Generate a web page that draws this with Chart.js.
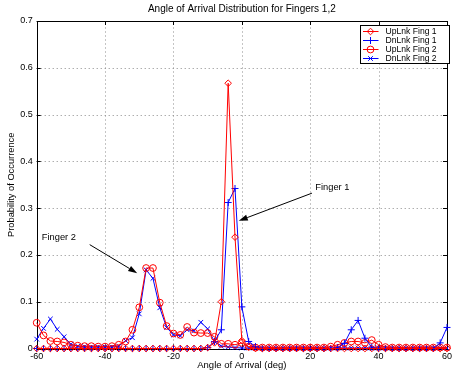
<!DOCTYPE html>
<html>
<head>
<meta charset="utf-8">
<script src="https://cdn.jsdelivr.net/npm/chart.js@4/dist/chart.umd.min.js"></script>
<style>
  html, body { margin: 0; padding: 0; background: #fff; }
  #wrap { width: 455px; height: 375px; }
</style>
</head>
<body>
<div id="wrap"><canvas id="aoaChart" width="455" height="375"></canvas></div>
<script>
// angle of arrival bins (deg)
const angles = [
  -60, -58, -56, -54, -52, -50, -48, -46, -44, -42,
  -40, -38, -36, -34, -32, -30, -28, -26, -24, -22,
  -20, -18, -16, -14, -12, -10, -8, -6, -4, -2,
  0, 2, 4, 6, 8, 10, 12, 14, 16, 18,
  20, 22, 24, 26, 28, 30, 32, 34, 36, 38,
  40, 42, 44, 46, 48, 50, 52, 54, 56, 58, 60
];

const upFing1 = [
  0, 0, 0, 0, 0, 0, 0, 0, 0, 0,
  0, 0, 0, 0, 0, 0, 0, 0, 0, 0,
  0, 0, 0, 0, 0, 0.002, 0.012, 0.1, 0.567, 0.238,
  0.017, 0.003, 0, 0, 0, 0, 0, 0, 0, 0,
  0, 0, 0, 0, 0, 0, 0, 0, 0, 0,
  0, 0, 0, 0, 0, 0, 0, 0, 0, 0, 0
];

const dnFing1 = [
  0, 0, 0, 0, 0, 0, 0, 0, 0, 0,
  0, 0, 0, 0, 0, 0, 0, 0, 0, 0,
  0, 0, 0, 0, 0, 0.002, 0.015, 0.04, 0.312, 0.342,
  0.089, 0.015, 0.004, 0, 0, 0, 0, 0, 0, 0,
  0, 0, 0, 0, 0.002, 0.011, 0.04, 0.06, 0.022, 0.003,
  0, 0, 0, 0, 0, 0, 0, 0, 0, 0.012, 0.045
];

const upFing2 = [
  0.055, 0.028, 0.016, 0.015, 0.013, 0.008, 0.006, 0.005, 0.005, 0.004,
  0.004, 0.005, 0.008, 0.015, 0.04, 0.088, 0.172, 0.172, 0.098, 0.048,
  0.032, 0.029, 0.046, 0.034, 0.033, 0.033, 0.025, 0.01, 0.01, 0.008,
  0.012, 0.004, 0.002, 0.002, 0.002, 0.002, 0.002, 0.002, 0.002, 0.002,
  0.002, 0.002, 0.002, 0.004, 0.008, 0.012, 0.015, 0.015, 0.012, 0.018,
  0.008, 0.003, 0.002, 0.002, 0.002, 0.002, 0.002, 0.002, 0.002, 0.002, 0.002
];

const dnFing2 = [
  0.02, 0.043, 0.063, 0.041, 0.025, 0.009, 0.005, 0.004, 0.003, 0.003,
  0.003, 0.003, 0.005, 0.017, 0.023, 0.074, 0.168, 0.15, 0.087, 0.045,
  0.029, 0.027, 0.04, 0.038, 0.056, 0.042, 0.015, 0.005, 0.003, 0.002,
  0.001, 0.001, 0.001, 0.001, 0.001, 0.001, 0.001, 0.001, 0.001, 0.001,
  0.001, 0.001, 0.001, 0.001, 0.001, 0.001, 0.001, 0.001, 0.001, 0.001,
  0.001, 0.001, 0.001, 0.001, 0.001, 0.001, 0.001, 0.001, 0.001, 0.001, 0.001
];

const seriesNames = ["UpLnk Fing 1", "DnLnk Fing 1", "UpLnk Fing 2", "DnLnk Fing 2"];
const xTicks = [-60, -40, -20, 0, 20, 40, 60];
const yTicks = [0, 0.1, 0.2, 0.3, 0.4, 0.5, 0.6, 0.7];

// text annotations [label, textX, textY, arrowFromX, arrowFromY, arrowToX, arrowToY] in data units
const notes = [
  ["Finger 1", 21.5, 0.344, 20.5, 0.332, -0.9, 0.273],
  ["Finger 2", -58.5, 0.238, -44.5, 0.222, -30.6, 0.161]
];

const FONT = "'Liberation Sans', Arial, Helvetica, sans-serif";
const RED = "#ff0000";
const BLUE = "#0000ff";

const pts = vals => vals.map((v, i) => ({ x: angles[i], y: v }));

function mkSet(label, vals, color, style, radius) {
  return {
    label: label,
    data: pts(vals),
    borderColor: color,
    backgroundColor: color,
    borderWidth: 1,
    pointStyle: style,
    pointRadius: radius,
    pointBorderWidth: 1,
    pointBorderColor: color,
    pointBackgroundColor: "rgba(0,0,0,0)",
    pointHoverRadius: radius,
    tension: 0,
    fill: false,
    clip: false
  };
}

const datasets = [
  mkSet(seriesNames[0], upFing1, RED, "rectRot", 3.3),
  mkSet(seriesNames[1], dnFing1, BLUE, "cross", 3.5),
  mkSet(seriesNames[2], upFing2, RED, "circle", 3.4),
  mkSet(seriesNames[3], dnFing2, BLUE, "crossRot", 3.3)
];

// dotted grid, box, inward ticks, annotations, legend, title
const matlabLook = {
  id: "matlabLook",
  beforeDatasetsDraw(chart) {
    const { ctx, chartArea: a, scales } = chart;
    ctx.save();
    // dotted grid
    ctx.strokeStyle = "#8a8a8a";
    ctx.lineWidth = 1;
    ctx.setLineDash([1, 3]);
    ctx.beginPath();
    xTicks.forEach(t => {
      const px = Math.round(scales.x.getPixelForValue(t)) + 0.5;
      ctx.moveTo(px, a.bottom); ctx.lineTo(px, a.top);
    });
    yTicks.forEach(t => {
      const py = Math.round(scales.y.getPixelForValue(t)) + 0.5;
      ctx.moveTo(a.left, py); ctx.lineTo(a.right, py);
    });
    ctx.stroke();
    ctx.setLineDash([]);
    // ticks pointing inward
    ctx.strokeStyle = "#000";
    ctx.beginPath();
    xTicks.forEach(t => {
      const px = Math.round(scales.x.getPixelForValue(t)) + 0.5;
      ctx.moveTo(px, a.bottom); ctx.lineTo(px, a.bottom - 4);
      ctx.moveTo(px, a.top); ctx.lineTo(px, a.top + 4);
    });
    yTicks.forEach(t => {
      const py = Math.round(scales.y.getPixelForValue(t)) + 0.5;
      ctx.moveTo(a.left, py); ctx.lineTo(a.left + 4, py);
      ctx.moveTo(a.right, py); ctx.lineTo(a.right - 4, py);
    });
    ctx.stroke();
    ctx.strokeRect(Math.round(a.left) + 0.5, Math.round(a.top) + 0.5,
      Math.round(a.right - a.left), Math.round(a.bottom - a.top));
    ctx.restore();
  },
  afterDatasetsDraw(chart) {
    const { ctx, scales } = chart;
    ctx.save();
    ctx.fillStyle = "#000";
    ctx.strokeStyle = "#000";
    ctx.lineWidth = 1;
    ctx.font = "9.3px " + FONT;
    ctx.textBaseline = "middle";
    ctx.textAlign = "left";
    notes.forEach(n => {
      const tx = scales.x.getPixelForValue(n[1]);
      const ty = scales.y.getPixelForValue(n[2]);
      ctx.fillText(n[0], tx, ty);
      const x0 = scales.x.getPixelForValue(n[3]), y0 = scales.y.getPixelForValue(n[4]);
      const x1 = scales.x.getPixelForValue(n[5]), y1 = scales.y.getPixelForValue(n[6]);
      const ang = Math.atan2(y1 - y0, x1 - x0);
      const hl = 9, hw = 3;
      const bx = x1 - hl * Math.cos(ang), by = y1 - hl * Math.sin(ang);
      ctx.beginPath();
      ctx.moveTo(x0, y0); ctx.lineTo(bx, by);
      ctx.stroke();
      ctx.beginPath();
      ctx.moveTo(x1, y1);
      ctx.lineTo(bx + hw * Math.sin(ang), by - hw * Math.cos(ang));
      ctx.lineTo(bx - hw * Math.sin(ang), by + hw * Math.cos(ang));
      ctx.closePath();
      ctx.fill();
    });
    ctx.restore();
  },
  afterDraw(chart) {
    const { ctx, chartArea: a } = chart;
    ctx.save();
    // title
    ctx.fillStyle = "#000";
    ctx.font = "10px " + FONT;
    ctx.textAlign = "center";
    ctx.textBaseline = "middle";
    ctx.fillText("Angle of Arrival Distribution for Fingers 1,2", (a.left + a.right) / 2, 9);
    // legend
    const lx = 360.5, ly = 25.5, lw = 89, lh = 38;
    ctx.fillStyle = "#fff";
    ctx.fillRect(lx, ly, lw, lh);
    ctx.strokeStyle = "#000";
    ctx.lineWidth = 1;
    ctx.strokeRect(lx, ly, lw, lh);
    ctx.textAlign = "left";
    datasets.forEach((d, i) => {
      const ry = ly + 6 + i * 9;
      ctx.strokeStyle = d.borderColor;
      ctx.lineWidth = 1;
      ctx.beginPath();
      ctx.moveTo(lx + 2.5, ry); ctx.lineTo(lx + 18, ry);
      ctx.stroke();
      ctx.fillStyle = "rgba(0,0,0,0)";
      Chart.helpers.drawPoint(ctx, { pointStyle: d.pointStyle, radius: d.pointRadius, borderWidth: 1, rotation: 0 }, lx + 10, ry);
      ctx.fillStyle = "#000";
      ctx.font = "8.6px " + FONT;
      ctx.fillText(d.label, lx + 25, ry + 0.5);
    });
    ctx.restore();
  }
};

const ctx = document.getElementById("aoaChart").getContext("2d");
const chart = new Chart(ctx, {
  type: "line",
  data: { datasets: datasets },
  options: {
    responsive: false,
    animation: false,
    events: [],
    layout: { padding: { top: 21, right: 4, left: 0, bottom: 0 } },
    plugins: {
      legend: { display: false },
      title: { display: false },
      tooltip: { enabled: false }
    },
    scales: {
      x: {
        type: "linear",
        min: -60, max: 60,
        afterBuildTicks: s => { s.ticks = xTicks.map(v => ({ value: v })); },
        afterFit: s => { s.height = 26.5; },
        ticks: { color: "#000", font: { family: FONT, size: 9 }, padding: 3, maxRotation: 0 },
        grid: { display: false, drawTicks: false },
        border: { display: false },
        title: { display: true, text: "Angle of Arrival (deg)", color: "#000", font: { family: FONT, size: 9.5 }, padding: { top: 0, bottom: 4 } }
      },
      y: {
        type: "linear",
        min: 0, max: 0.7,
        afterBuildTicks: s => { s.ticks = yTicks.map(v => ({ value: v })); },
        afterFit: s => { s.width = 36.7; },
        ticks: { color: "#000", font: { family: FONT, size: 9 }, padding: 4 },
        grid: { display: false, drawTicks: false },
        border: { display: false },
        title: { display: true, text: "Probability of Occurrence", color: "#000", font: { family: FONT, size: 9.3 }, padding: { top: 6, bottom: 0 } }
      }
    }
  },
  plugins: [matlabLook]
});
</script>
</body>
</html>
